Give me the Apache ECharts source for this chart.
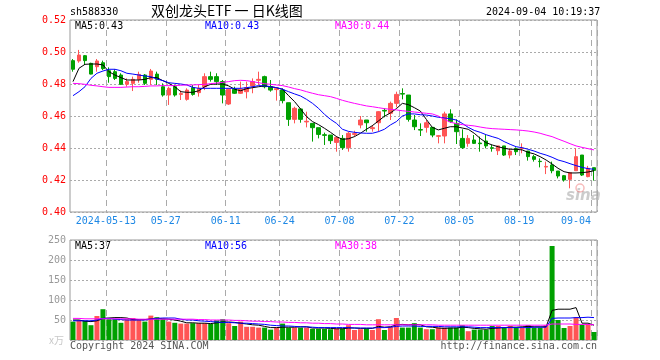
<!DOCTYPE html>
<html><head><meta charset="utf-8">
<script src="https://cdn.jsdelivr.net/npm/echarts@6/dist/echarts.min.js"></script>
<style>html,body{margin:0;padding:0;background:#fff}#c{width:660px;height:360px}</style>
</head><body><div id="c"></div>
<script>
const dates = ['2024-04-30','2024-05-06','2024-05-07','2024-05-08','2024-05-09','2024-05-10',
'2024-05-13','2024-05-14','2024-05-15','2024-05-16','2024-05-17',
'2024-05-20','2024-05-21','2024-05-22','2024-05-23','2024-05-24',
'2024-05-27','2024-05-28','2024-05-29','2024-05-30','2024-05-31',
'2024-06-03','2024-06-04','2024-06-05','2024-06-06','2024-06-07',
'2024-06-11','2024-06-12','2024-06-13','2024-06-14',
'2024-06-17','2024-06-18','2024-06-19','2024-06-20','2024-06-21',
'2024-06-24','2024-06-25','2024-06-26','2024-06-27','2024-06-28',
'2024-07-01','2024-07-02','2024-07-03','2024-07-04','2024-07-05',
'2024-07-08','2024-07-09','2024-07-10','2024-07-11','2024-07-12',
'2024-07-15','2024-07-16','2024-07-17','2024-07-18','2024-07-19',
'2024-07-22','2024-07-23','2024-07-24','2024-07-25','2024-07-26',
'2024-07-29','2024-07-30','2024-07-31','2024-08-01','2024-08-02',
'2024-08-05','2024-08-06','2024-08-07','2024-08-08','2024-08-09',
'2024-08-12','2024-08-13','2024-08-14','2024-08-15','2024-08-16',
'2024-08-19','2024-08-20','2024-08-21','2024-08-22','2024-08-23',
'2024-08-26','2024-08-27','2024-08-28','2024-08-29','2024-08-30',
'2024-09-02','2024-09-03','2024-09-04'];

const tickDates = ['2024-05-13','2024-05-27','2024-06-11','2024-06-24','2024-07-08','2024-07-22','2024-08-05','2024-08-19','2024-09-04'];
const tickLabels = ['2024-05-13','05-27','06-11','06-24','07-08','07-22','08-05','08-19','09-04'];

const openP = [.4946,.4944,.4977,.4929,.4908,.4933,.4883,.4877,.4856,.4798,
.4804,.4829,.4856,.4829,.4862,.4783,.4731,.4783,.4735,.4704,
.4777,.4746,.4783,.4846,.4846,.4815,.4675,.4767,.4742,.4752,
.4788,.4823,.4846,.4783,.4765,.4762,.4683,.4579,.4644,.4563,
.4554,.4527,.4483,.4481,.4435,.4460,.4402,.4485,.4544,.4575,
.4521,.4558,.4635,.4617,.4679,.4740,.4731,.4575,.4515,.4529,
.4529,.4473,.4475,.4613,.4554,.4460,.4429,.4450,.4431,.4444,
.4402,.4383,.4413,.4356,.4396,.4396,.4381,.4346,.4317,.4281,
.4294,.4256,.4227,.4204,.4258,.4356,.4221,.4277];
const closeP = [.4892,.4981,.4946,.4862,.4944,.4896,.4846,.4835,.4798,.4815,
.4829,.4860,.4804,.4881,.4829,.4731,.4773,.4731,.4740,.4762,
.4735,.4773,.4846,.4829,.4815,.4731,.4767,.4742,.4767,.4777,
.4815,.4829,.4783,.4762,.4771,.4696,.4579,.4648,.4579,.4567,
.4527,.4485,.4479,.4446,.4465,.4402,.4492,.4490,.4575,.4558,
.4527,.4627,.4631,.4679,.4735,.4737,.4579,.4533,.4512,.4558,
.4481,.4477,.4613,.4565,.4502,.4402,.4460,.4429,.4427,.4413,
.4398,.4413,.4356,.4381,.4377,.4400,.4346,.4329,.4315,.4285,
.4258,.4225,.4200,.4246,.4346,.4231,.4273,.4260];
const lowP = [.4877,.4933,.4919,.4860,.4877,.4887,.4808,.4825,.4794,.4783,
.4756,.4808,.4794,.4794,.4794,.4721,.4669,.4721,.4700,.4696,
.4727,.4721,.4762,.4815,.4794,.4679,.4669,.4738,.4738,.4710,
.4742,.4794,.4773,.4752,.4696,.4679,.4538,.4554,.4558,.4529,
.4440,.4460,.4419,.4425,.4377,.4388,.4377,.4471,.4523,.4502,
.4502,.4502,.4592,.4575,.4654,.4704,.4565,.4512,.4475,.4496,
.4467,.4429,.4429,.4558,.4425,.4394,.4408,.4425,.4377,.4398,
.4377,.4356,.4350,.4335,.4356,.4367,.4321,.4315,.4279,.4237,
.4242,.4210,.4190,.4148,.4258,.4225,.4217,.4196];
const highP = [.4956,.5013,.4981,.4933,.4956,.4946,.4904,.4892,.4867,.4835,
.4846,.4877,.4862,.4894,.4877,.4804,.4783,.4794,.4760,.4773,
.4794,.4794,.4867,.4877,.4867,.4825,.4773,.4783,.4815,.4815,
.4835,.4877,.4852,.4825,.4773,.4773,.4683,.4658,.4648,.4627,
.4554,.4527,.4496,.4481,.4475,.4481,.4502,.4508,.4600,.4575,
.4544,.4631,.4648,.4690,.4752,.4773,.4731,.4606,.4554,.4575,
.4529,.4481,.4627,.4642,.4579,.4517,.4481,.4481,.4471,.4481,
.4419,.4413,.4413,.4398,.4404,.4429,.4381,.4356,.4335,.4315,
.4315,.4256,.4231,.4246,.4398,.4356,.4288,.4277];

const ma5 = [.4815,.4898,.4923,.4925,.4925,.4919,.4877,.4856,.4840,.4825,
.4825,.4825,.4829,.4840,.4840,.4821,.4804,.4783,.4752,.4748,
.4748,.4758,.4783,.4798,.4800,.4800,.4788,.4767,.4758,.4771,
.4777,.4783,.4788,.4783,.4777,.4767,.4727,.4690,.4644,.4596,
.4565,.4546,.4523,.4498,.4471,.4454,.4458,.4471,.4492,.4517,
.4540,.4569,.4598,.4619,.4646,.4679,.4671,.4652,.4631,.4579,
.4529,.4513,.4523,.4533,.4533,.4525,.4517,.4492,.4460,.4433,
.4419,.4408,.4398,.4392,.4392,.4388,.4373,.4363,.4346,.4325,
.4300,.4273,.4252,.4244,.4244,.4246,.4250,.4258];
const ma10 = [.4727,.4752,.4783,.4835,.4867,.4881,.4892,.4892,.4883,.4867,
.4862,.4856,.4850,.4846,.4831,.4821,.4808,.4804,.4800,.4794,
.4779,.4773,.4773,.4773,.4773,.4773,.4773,.4773,.4773,.4777,
.4783,.4790,.4788,.4783,.4777,.4767,.4752,.4738,.4725,.4704,
.4679,.4648,.4610,.4579,.4554,.4517,.4504,.4498,.4494,.4492,
.4492,.4502,.4517,.4544,.4565,.4600,.4613,.4613,.4608,.4606,
.4600,.4592,.4588,.4583,.4575,.4554,.4529,.4510,.4498,.4483,
.4471,.4460,.4440,.4423,.4408,.4402,.4392,.4381,.4367,.4356,
.4342,.4325,.4315,.4302,.4290,.4279,.4271,.4267];
const ma30 = [.4804,.4802,.4798,.4792,.4788,.4783,.4779,.4779,.4779,.4781,
.4783,.4783,.4785,.4788,.4788,.4790,.4790,.4790,.4792,.4794,
.4794,.4796,.4798,.4802,.4806,.4810,.4815,.4821,.4823,.4821,
.4815,.4808,.4802,.4798,.4794,.4790,.4781,.4771,.4763,.4752,
.4742,.4733,.4727,.4721,.4710,.4698,.4688,.4679,.4671,.4663,
.4658,.4652,.4646,.4642,.4638,.4633,.4629,.4625,.4621,.4617,
.4613,.4600,.4579,.4562,.4552,.4546,.4542,.4538,.4531,.4525,
.4521,.4519,.4517,.4515,.4513,.4510,.4506,.4500,.4492,.4481,
.4471,.4456,.4442,.4427,.4413,.4404,.4396,.4388];

const volumes = [46,50,48,37,60,77,52,52,43,52,
55,52,46,61,57,52,46,43,41,41,
42,42,42,40,49,52,42,35,46,33,
33,31,31,26,31,41,31,31,31,31,
28,28,28,27,29,29,37,25,27,29,
25,52,25,33,55,31,31,42,31,27,
27,31,31,31,31,37,22,26,26,26,
35,35,31,35,31,31,37,31,31,37,
235,50,30,35,57,38,40,20];
const vma5 = [50,50,47,46,48,54,55,56,56,55,
51,51,51,53,54,53,52,50,47,43,
43,42,42,41,43,45,45,44,42,40,
38,37,34,31,31,32,32,32,33,33,
30,30,30,29,28,28,30,30,29,29,
29,34,32,33,38,39,38,39,38,33,
32,30,29,30,30,32,31,29,28,27,
29,30,31,32,32,33,34,33,33,33,
74,77,77,77,81,42,42,37];
const vma10 = [48,48,48,48,50,54,54,52,51,50,
50,50,50,52,54,55,55,55,52,50,
50,48,47,46,45,44,44,43,42,42,
41,40,39,37,36,35,35,34,33,33,
32,31,31,31,31,31,31,30,30,30,
30,31,31,32,34,35,35,35,34,34,
34,34,33,33,33,33,33,32,31,31,
31,31,31,31,31,31,31,32,32,32,
54,55,55,55,56,56,57,56];
const vma30 = [54,54,53,53,53,53,53,53,53,53,
53,52,52,52,52,52,52,52,52,52,
52,51,51,50,50,50,50,49,49,48,
47,47,46,46,45,45,44,44,43,43,
42,42,41,41,40,40,39,39,39,38,
38,38,38,38,38,38,38,38,38,38,
38,37,37,37,37,37,37,37,37,37,
37,37,37,37,37,37,37,37,37,37,
40,40,40,40,39,39,39,38];

const UP = '#ff5555', DOWN = '#00a000', GRAY = '#999999';
const MONO = '"DejaVu Sans Mono", "Liberation Mono", monospace';
const last = a => a[a.length - 1];

const candleData = dates.map((d, i) => [openP[i], closeP[i], lowP[i], highP[i]]);
const volData = volumes.map((v, i) => ({
  value: v,
  itemStyle: { color: closeP[i] >= openP[i] ? UP : DOWN }
}));
const isTick = (idx) => tickDates.indexOf(dates[idx]) >= 0;

const chart = echarts.init(document.getElementById('c'), null, { renderer: 'canvas' });

function lineSeries(name, data, color, xi, yi) {
  return { name, type: 'line', data, xAxisIndex: xi, yAxisIndex: yi, showSymbol: false,
    symbol: 'none', lineStyle: { color, width: 1 }, itemStyle: { color }, z: 5, silent: true };
}

const xCommon = {
  type: 'category', data: dates, boundaryGap: true,
  axisLine: { show: false }, axisTick: { show: false },
  splitLine: { show: true, interval: (idx) => isTick(idx),
    lineStyle: { color: '#aaaaaa', type: [6, 4], width: 1 } }
};

chart.setOption({
  animation: false,
  backgroundColor: '#ffffff',
  grid: [
    { left: 70, right: 63, top: 20, height: 192, show: true, borderColor: GRAY, borderWidth: 1 },
    { left: 70, right: 63, top: 240, height: 100, show: true, borderColor: GRAY, borderWidth: 1 }
  ],
  xAxis: [
    Object.assign({}, xCommon, { gridIndex: 0,
      axisLabel: { show: true, interval: (idx) => isTick(idx), margin: 4,
        color: '#1e88e5', fontFamily: MONO, fontSize: 10,
        formatter: (v) => {
          const k = tickDates.indexOf(v);
          return k === tickDates.length - 1 ? '{e|' + tickLabels[k] + '}' : '{n|' + tickLabels[k] + '}';
        },
        rich: {
          n: { color: '#1e88e5', fontFamily: MONO, fontSize: 10, padding: [0, 6, 0, 0] },
          e: { color: '#1e88e5', fontFamily: MONO, fontSize: 10, padding: [0, 36, 0, 0] }
        } } }),
    Object.assign({}, xCommon, { gridIndex: 1, axisLabel: { show: false } })
  ],
  yAxis: [
    { type: 'value', gridIndex: 0, min: 0.40, max: 0.52, interval: 0.02, scale: true,
      axisLine: { show: false }, axisTick: { show: false },
      axisLabel: { color: '#ff0000', fontFamily: MONO, fontSize: 10, margin: 4,
        formatter: (v) => v.toFixed(2) },
      splitLine: { show: true, lineStyle: { color: '#aaaaaa', type: [2, 2], width: 1 } } },
    { type: 'value', gridIndex: 1, min: 0, max: 250, interval: 50,
      axisLine: { show: false }, axisTick: { show: false },
      axisLabel: { color: GRAY, fontFamily: MONO, fontSize: 10, margin: 4,
        formatter: (v) => v === 0 ? '' : String(v) },
      splitLine: { show: true, lineStyle: { color: '#aaaaaa', type: [2, 2], width: 1 } } }
  ],
  series: [
    { name: 'K', type: 'candlestick', data: candleData, xAxisIndex: 0, yAxisIndex: 0,
      barWidth: 4, silent: true,
      itemStyle: { color: UP, color0: DOWN, borderColor: UP, borderColor0: DOWN, borderWidth: 1 } },
    lineSeries('MA5', ma5, '#000000', 0, 0),
    lineSeries('MA10', ma10, '#0000ff', 0, 0),
    lineSeries('MA30', ma30, '#ff00ff', 0, 0),
    { name: 'VOL', type: 'bar', data: volData, xAxisIndex: 1, yAxisIndex: 1, barWidth: 5, silent: true },
    lineSeries('VMA5', vma5, '#000000', 1, 1),
    lineSeries('VMA10', vma10, '#0000ff', 1, 1),
    lineSeries('VMA30', vma30, '#ff00ff', 1, 1)
  ],
  graphic: [
    { type: 'text', left: 70, top: 7, style: { text: 'sh588330', font: '10px ' + MONO, fill: '#000' } },
    { type: 'text', left: 151, top: 4, style: { text: '双创龙头ETF 一 日K线图', font: '14px "Noto Sans CJK SC"', fill: '#000' } },
    { type: 'text', left: 486, top: 7, style: { text: '2024-09-04 10:19:37', font: '10px ' + MONO, fill: '#000' } },
    { type: 'text', left: 75, top: 21, style: { text: 'MA5:' + last(ma5).toFixed(2), font: '10px ' + MONO, fill: '#000' } },
    { type: 'text', left: 205, top: 21, style: { text: 'MA10:' + last(ma10).toFixed(2), font: '10px ' + MONO, fill: '#0000ff' } },
    { type: 'text', left: 335, top: 21, style: { text: 'MA30:' + last(ma30).toFixed(2), font: '10px ' + MONO, fill: '#ff00ff' } },
    { type: 'text', left: 75, top: 241, style: { text: 'MA5:' + last(vma5), font: '10px ' + MONO, fill: '#000' } },
    { type: 'text', left: 205, top: 241, style: { text: 'MA10:' + last(vma10), font: '10px ' + MONO, fill: '#0000ff' } },
    { type: 'text', left: 335, top: 241, style: { text: 'MA30:' + last(vma30), font: '10px ' + MONO, fill: '#ff00ff' } },
    { type: 'text', left: 49, top: 335, style: { text: 'x万', font: '10px "Noto Sans CJK SC"', fill: '#c8c8c8' } },
    { type: 'text', left: 70, top: 341, style: { text: 'Copyright 2024 SINA.COM', font: '10px ' + MONO, fill: '#555' } },
    { type: 'text', right: 63, top: 341, style: { text: 'http://finance.sina.com.cn', font: '10px ' + MONO, fill: '#555' } },
    { type: 'text', left: 566, top: 189, style: { text: 'sina', font: 'italic bold 15px "DejaVu Sans"', fill: 'rgba(170,170,170,0.6)' } },
    { type: 'circle', shape: { cx: 580, cy: 188, r: 4 }, style: { fill: 'none', stroke: 'rgba(240,120,120,0.5)', lineWidth: 1.5 } }
  ]
});
</script></body></html>
